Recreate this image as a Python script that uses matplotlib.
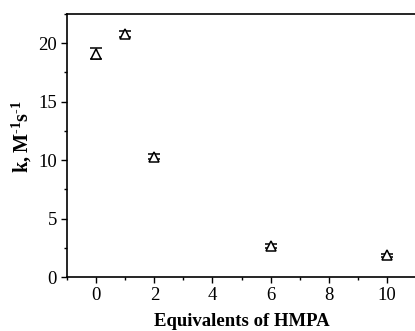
import matplotlib
matplotlib.use("Agg")
import matplotlib.pyplot as plt
from matplotlib.ticker import MultipleLocator

plt.rcParams['font.family'] = ['Liberation Serif', 'DejaVu Serif']
plt.rcParams['mathtext.fontset'] = 'custom'
plt.rcParams['mathtext.rm'] = 'Liberation Serif:bold'
plt.rcParams['mathtext.bf'] = 'Liberation Serif:bold'

equivalents = [0, 1, 2, 6, 10]
k_values = [19.1, 20.8, 10.3, 2.65, 1.85]
k_errors = [0.45, 0.25, 0.2, 0.15, 0.15]

fig = plt.figure(figsize=(4.15, 3.31), dpi=100)
ax = fig.add_axes([0.162, 0.163, 0.84, 0.795])

ax.errorbar(equivalents, k_values, yerr=k_errors, fmt='^', mfc='white', mec='black',
            ecolor='black', ms=6.5, mew=1.1, capsize=4, elinewidth=1, color='black')

ax.set_xlim(-1, 11)
ax.set_ylim(0, 22.5)
ax.xaxis.set_major_locator(MultipleLocator(2))
ax.xaxis.set_minor_locator(MultipleLocator(1))
ax.yaxis.set_major_locator(MultipleLocator(5))
ax.yaxis.set_minor_locator(MultipleLocator(2.5))
ax.tick_params(which='major', direction='out', length=4, width=1, labelsize=13.5)
ax.tick_params(which='minor', direction='out', length=2.5, width=1)
ax.spines['right'].set_visible(False)
for s in ['left', 'bottom', 'top']:
    ax.spines[s].set_linewidth(1.2)

ax.set_xlabel('Equivalents of HMPA', fontsize=13.5, fontweight='bold', labelpad=6)
ax.set_ylabel(r'$\mathrm{k, M^{\text{-}1}s^{\text{-}1}}$', fontsize=14.5)
ax.yaxis.set_label_coords(-0.095, 0.535)

fig.savefig('out.png', dpi=100)
